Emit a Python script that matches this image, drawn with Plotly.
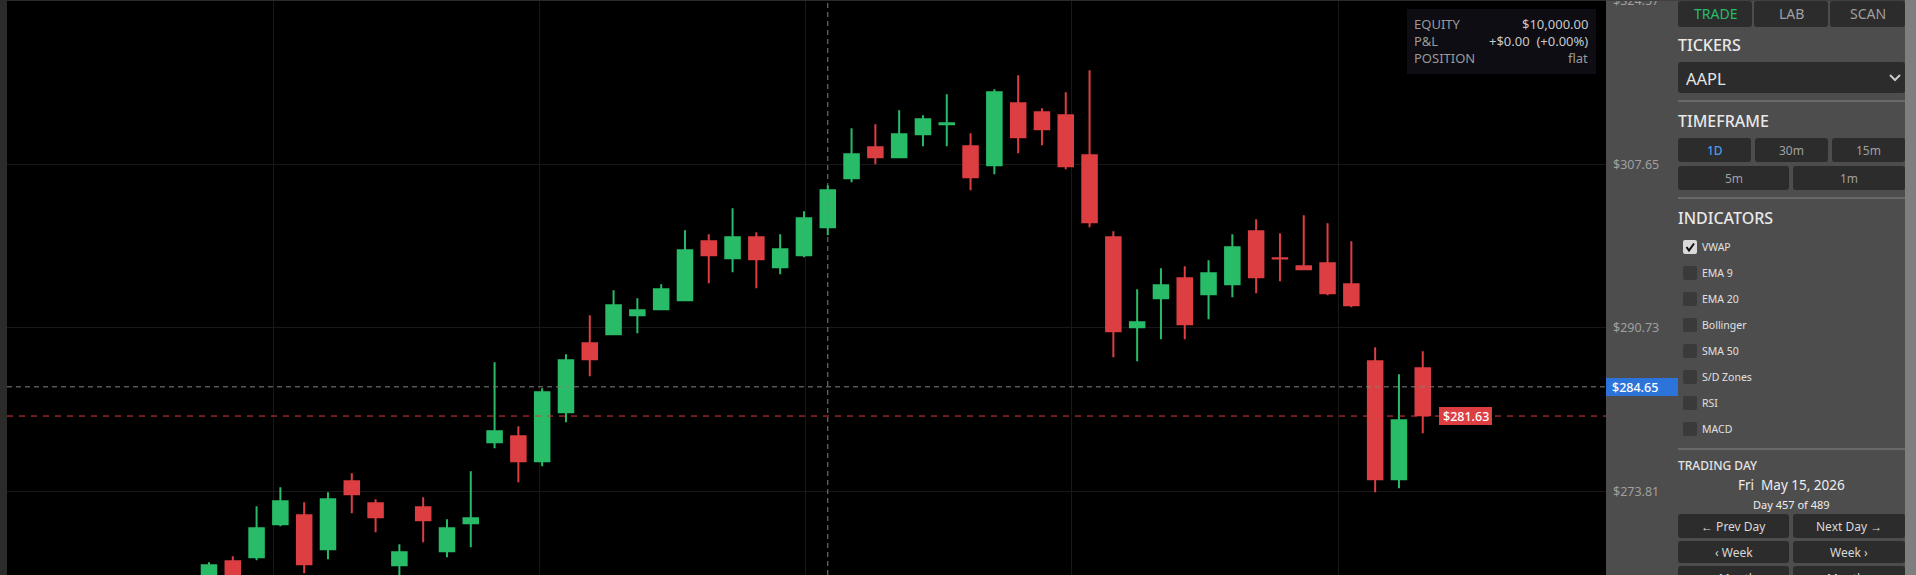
import plotly.graph_objects as go

W = 1916
H = 575

# daily bars, left to right (first two run off the bottom of the chart)
opens = [263.00, 266.62, 267.03, 270.44, 271.37, 267.86, 274.88, 272.61, 266.20, 272.20, 267.65, 270.54, 278.91,
         279.54, 276.95, 282.02, 289.15, 290.08, 292.04, 292.66, 293.59, 299.69, 297.93, 300.10, 297.00, 298.24,
         301.14, 306.20, 309.41, 308.37, 310.75, 311.78, 309.51, 307.55, 313.95, 313.02, 312.71, 308.58, 300.10,
         290.80, 293.80, 295.87, 294.21, 295.25, 300.72, 297.93, 297.11, 297.42, 295.25, 287.29, 275.09, 286.56]
highs = [266.51, 267.13, 272.30, 274.26, 272.71, 273.75, 275.71, 273.02, 268.37, 273.23, 270.96, 275.92, 287.18,
         280.57, 284.50, 288.01, 292.04, 294.63, 293.80, 295.25, 300.83, 300.41, 303.10, 300.62, 300.41, 302.79,
         305.48, 311.37, 311.78, 313.23, 312.71, 314.88, 310.85, 315.40, 316.85, 313.44, 315.09, 317.36, 300.72,
         294.73, 296.90, 297.11, 297.73, 300.41, 301.96, 300.52, 302.38, 301.55, 299.69, 288.73, 285.94, 288.32]
lows = [262.58, 263.00, 266.72, 270.23, 265.37, 266.82, 271.58, 269.61, 264.65, 268.58, 267.03, 268.06, 278.29,
        274.78, 276.43, 280.98, 285.74, 289.97, 290.18, 292.56, 293.49, 295.35, 296.49, 294.83, 296.28, 298.04,
        300.31, 305.79, 307.65, 308.27, 309.51, 309.51, 304.96, 306.62, 308.79, 309.61, 307.13, 301.14, 287.70,
        287.29, 289.56, 289.56, 291.63, 293.90, 294.32, 295.56, 296.69, 294.11, 292.87, 273.75, 274.16, 279.85]
closes = [266.20, 263.62, 270.03, 272.82, 266.30, 273.02, 273.54, 271.16, 267.55, 270.85, 270.03, 271.06, 280.05,
          276.95, 284.08, 287.39, 287.49, 293.08, 292.56, 294.73, 298.76, 298.24, 300.10, 297.83, 298.86, 302.07,
          304.96, 308.68, 308.37, 310.75, 312.30, 311.89, 306.31, 315.09, 310.44, 311.27, 307.44, 301.65, 290.39,
          291.32, 295.14, 291.11, 296.38, 299.07, 295.97, 297.90, 296.80, 294.32, 293.08, 275.09, 281.19, 281.71]
bars = list(range(len(opens)))

price_ticks = [324.57, 307.65, 290.73, 273.81]
price_labels = ["$324.57", "$307.65", "$290.73", "$273.81"]
time_grid = [2.69, 13.87, 25.08, 36.26, 47.48]
cursor_bar = 26
cursor_price = 284.65
last_price = 281.63

tab_labels = ["TRADE", "LAB", "SCAN"]
timeframes_top = ["1D", "30m", "15m"]
timeframes_bottom = ["5m", "1m"]
indicators = ["VWAP", "EMA 9", "EMA 20", "Bollinger", "SMA 50", "S/D Zones", "RSI", "MACD"]
stats_names = ["EQUITY", "P&L", "POSITION"]
stats_values = ["$10,000.00", "+$0.00\u00a0\u00a0(+0.00%)", "flat"]

GREEN = "#28BC68"
RED = "#DC3E42"
SIDE = "#4D4D4D"
BTN = "#2C2C2C"
FONT = "Noto Sans"

def px(x):
    return x / W

def py(y):
    return 1 - y / H

shapes = []
annotations = []

def rect(x0, y0, x1, y1, color, r=0, line="rgba(0,0,0,0)"):
    # rounded box in page pixels
    pts = [
        f"M{px(x0 + r)},{py(y0)}", f"L{px(x1 - r)},{py(y0)}", f"Q{px(x1)},{py(y0)} {px(x1)},{py(y0 + r)}",
        f"L{px(x1)},{py(y1 - r)}", f"Q{px(x1)},{py(y1)} {px(x1 - r)},{py(y1)}",
        f"L{px(x0 + r)},{py(y1)}", f"Q{px(x0)},{py(y1)} {px(x0)},{py(y1 - r)}",
        f"L{px(x0)},{py(y0 + r)}", f"Q{px(x0)},{py(y0)} {px(x0 + r)},{py(y0)}", "Z",
    ]
    shapes.append(dict(type="path", xref="paper", yref="paper", path=" ".join(pts), fillcolor=color,
                       line=dict(color=line, width=0), layer="above"))

def polyline(points, color, width):
    path = " ".join(("M" if i == 0 else "L") + f"{px(x)},{py(y)}" for i, (x, y) in enumerate(points))
    shapes.append(dict(type="path", xref="paper", yref="paper", path=path,
                       line=dict(color=color, width=width), layer="above"))

def hline(x0, x1, y, color):
    shapes.append(dict(type="line", xref="paper", yref="paper", x0=px(x0), x1=px(x1), y0=py(y), y1=py(y),
                       line=dict(color=color, width=1), layer="above"))

def label(x, y, text, size=12, color="#E4E4E4", anchor="left", weight=400):
    annotations.append(dict(xref="paper", yref="paper", x=px(x), y=py(y), text=text, showarrow=False,
                            xanchor=anchor, yanchor="middle",
                            font=dict(family=FONT, size=size, color=color, weight=weight),
                            borderpad=0, borderwidth=0))

def button(x0, y0, x1, y1, text, size=12, color="#A0A0A0", weight=400):
    rect(x0, y0, x1, y1, BTN, r=3)
    label((x0 + x1) / 2, (y0 + y1) / 2, text, size, color, "center", weight)

# chart overlays
shapes.append(dict(type="line", xref="x", yref="paper", x0=cursor_bar, x1=cursor_bar, y0=0, y1=1,
                   line=dict(color="#808080", width=1, dash="5px,4px"), layer="above"))
shapes.append(dict(type="line", xref="x domain", yref="y", x0=0, x1=1, y0=cursor_price, y1=cursor_price,
                   line=dict(color="#808080", width=1, dash="5px,4px"), layer="above"))
shapes.append(dict(type="line", xref="x domain", yref="y", x0=0, x1=1, y0=last_price, y1=last_price,
                   line=dict(color="#E0393E", width=1, dash="6px,6px"), layer="above"))

rect(0, 0, 7, H, "#2B2B2B")
rect(7, 0, 1606, 1, "#2B2B2B")
rect(1606, 0, 1905, 1, "#404040")
rect(1905, 0, W, H, "#7E7E7E")

# account box
rect(1407, 9, 1596, 74, "#0D0D13")
for i in range(3):
    label(1414, 24 + i * 17, stats_names[i], 13, "#9A9A9A")
    label(1588, 24 + i * 17, stats_values[i], 13, "#9A9A9A" if i == 2 else "#C8C8C8", "right")

# price tags
rect(1606, 378, 1678, 396, "#2D74DA")
label(1612, 387, f"${cursor_price:.2f}", 12.5, "#FFFFFF", weight=500)
rect(1439, 407, 1492, 425, RED)
label(1465.5, 416, f"${last_price:.2f}", 12.5, "#FFFFFF", "center", weight=500)

# side panel
tabs_x = [(1678, 1752), (1754, 1828), (1830, 1905)]
for (x0, x1), t in zip(tabs_x, tab_labels):
    button(x0, 1, x1, 27, t, 14, GREEN if t == "TRADE" else "#A0A0A0")

label(1678, 45, "TICKERS", 16, "#E8E8E8", weight=500)
rect(1678, 62, 1905, 93, BTN, r=3)
label(1686, 78, "AAPL", 16.5)
polyline([(1890, 75), (1895, 80), (1900, 75)], "#C8C8C8", 2)
hline(1678, 1905, 101, "#858585")

label(1678, 121, "TIMEFRAME", 16, "#E8E8E8", weight=500)
frames_x = [(1678, 1751), (1755, 1828), (1832, 1905)]
for (x0, x1), t in zip(frames_x, timeframes_top):
    button(x0, 138, x1, 162, t, 12, "#4A9AE8" if t == "1D" else "#A0A0A0", 500 if t == "1D" else 400)
frames_x = [(1678, 1789), (1793, 1905)]
for (x0, x1), t in zip(frames_x, timeframes_bottom):
    button(x0, 166, x1, 190, t, 12)
hline(1678, 1905, 198, "#858585")

label(1678, 218, "INDICATORS", 16, "#E8E8E8", weight=500)
for i, name in enumerate(indicators):
    cy = 247 + i * 26
    rect(1683, cy - 7, 1697, cy + 7, "#DADADA" if i == 0 else "#3A3A3A", r=2)
    label(1702, cy, name, 10.5, "#E0E0E0")
polyline([(1686.5, 247), (1689, 250.5), (1694, 243.5)], "#111111", 2)
hline(1678, 1905, 449, "#858585")

label(1678, 465, "TRADING DAY", 12, weight=500)
label(1791, 485, "Fri\u00a0\u00a0May 15, 2026", 13.5, "#EDEDED", "center")
label(1791, 504, "Day 457 of 489", 11, "#EDEDED", "center")
button(1678, 514, 1789, 538, "\u2190 Prev Day", 12, "#D8D8D8")
button(1793, 514, 1905, 538, "Next Day \u2192", 12, "#D8D8D8")
button(1678, 541, 1789, 563, "\u2039 Week", 12, "#D8D8D8")
button(1793, 541, 1905, 563, "Week \u203a", 12, "#D8D8D8")
button(1678, 566, 1789, 590, "\u2039 Month", 12, "#D8D8D8")
button(1793, 566, 1905, 590, "Month \u203a", 12, "#D8D8D8")

fig = go.Figure(go.Candlestick(
    x=bars, open=opens, high=highs, low=lows, close=closes,
    increasing=dict(line=dict(color=GREEN, width=2), fillcolor=GREEN),
    decreasing=dict(line=dict(color=RED, width=2), fillcolor=RED),
    whiskerwidth=0,
    showlegend=False,
))
fig.update_layout(
    width=W, height=H,
    margin=dict(l=0, r=0, t=0, b=0),
    paper_bgcolor=SIDE,
    plot_bgcolor="#000000",
    boxgap=0.39,
    boxgroupgap=0,
    shapes=shapes,
    annotations=annotations,
    font=dict(family=FONT),
    xaxis=dict(domain=[px(7), px(1606)], range=[-8.487, 58.70], rangeslider=dict(visible=False),
               tickmode="array", tickvals=time_grid, showticklabels=False, ticks="", automargin=False,
               showgrid=True, gridcolor="#181818", gridwidth=1, zeroline=False, showline=False),
    yaxis=dict(domain=[0, 1], range=[265.20, 324.63], side="right", tickmode="array",
               tickvals=price_ticks, ticktext=price_labels, ticks="", ticklabelstandoff=6,
               ticklabeloverflow="allow", automargin=False,
               tickfont=dict(family=FONT, size=12.5, color="#A0A0A0"),
               showgrid=True, gridcolor="#181818", gridwidth=1, zeroline=False, showline=False),
)
fig.write_html("out.html", config=dict(displayModeBar=False),
               post_script="document.body.style.margin='0';document.body.style.overflow='hidden';")
